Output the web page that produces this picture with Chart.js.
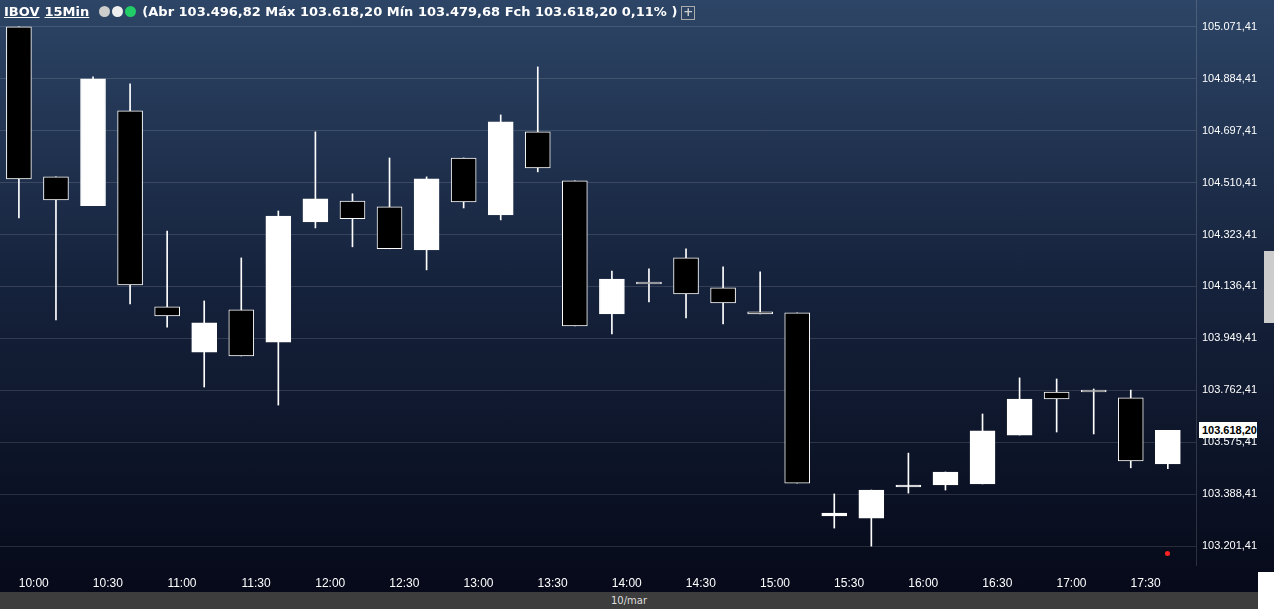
<!DOCTYPE html>
<html>
<head>
<meta charset="utf-8">
<script src="https://cdn.jsdelivr.net/npm/chart.js@4/dist/chart.umd.min.js"></script>
<style>
  body { margin: 0; width: 1274px; height: 609px; overflow: hidden; font-family: Tahoma, "DejaVu Sans", sans-serif;
         background: linear-gradient(#2d4566, #16233d 45%, #050817); position: relative; }
  #wrap { position: absolute; left: 0; top: 0; width: 1274px; height: 592px; }
  #topo { position: absolute; left: 4px; top: 4px; color: #fff; font-size: 13px; font-weight: bold; white-space: nowrap; }
  #topo u { margin-right: 5px; }
  .ic { display: inline-block; width: 11px; height: 11px; border-radius: 50%; vertical-align: -1px; margin-right: 2px; }
  #mais { display: inline-block; border: 1px solid #aaa; width: 12px; height: 12px; line-height: 11px; text-align: center; font-size: 12px; color: #ccc; margin-left: 4px; }
  #rodape { position: absolute; left: 0; top: 592px; width: 1258px; height: 17px; background: #3d3d3d; color: #ddd; font-size: 10px; text-align: center; line-height: 17px; }
  #canto { position: absolute; left: 1258px; top: 572px; width: 16px; height: 37px; background: #fff; }
  #preco { position: absolute; left: 1199px; top: 422px; width: 58px; height: 16px; background: #fff; color: #000; font-family: "Liberation Sans", Arial, sans-serif; font-size: 11px; font-weight: bold; line-height: 16px; text-align: right; }
  #aba { position: absolute; left: 1264px; top: 251px; width: 10px; height: 72px; background: #ccc; }
  #ponto { position: absolute; left: 1165px; top: 551px; width: 5px; height: 5px; border-radius: 50%; background: #f22; }
</style>
</head>
<body>
<div id="wrap"><canvas id="grafico"></canvas></div>
<div id="topo"><u>IBOV</u><u>15Min</u> <span class="ic" style="background:#ccc"></span><span class="ic" style="background:#eee"></span><span class="ic" style="background:#2c6"></span> (Abr 103.496,82 Máx 103.618,20 Mín 103.479,68 Fch 103.618,20 0,11% )<span id="mais">+</span></div>
<div id="preco">103.618,20</div>
<div id="aba"></div>
<div id="ponto"></div>
<div id="rodape">10/mar</div>
<div id="canto"></div>
<script>
'use strict';

const horarios = ['10:00','10:30','11:00','11:30','12:00','12:30','13:00','13:30','14:00','14:30','15:00','15:30','16:00','16:30','17:00','17:30'];
const abertura = [105071,104531,104427,104769,104063,103900,104052,103936,104369,104444,104423,104268,104599,104394,104693,104517,
                  104037,104145,104239,104131,104045,104041,103310,103302,103414,103421,103425,103601,103756,103756,103735,103497];
const fechamento = [104524,104448,104884,104142,104030,104005,103886,104390,104452,104380,104272,104524,104441,104729,104563,103994,
                    104163,104145,104109,104077,104037,103428,103320,103403,103421,103468,103616,103731,103731,103756,103508,103618];
const maxima = [105071,104531,104891,104866,104336,104084,104239,104408,104693,104470,104599,104531,104599,104754,104927,104517,
                104192,104200,104272,104207,104189,104041,103389,103403,103536,103468,103677,103807,103803,103767,103763,103618];
const minima = [104383,104016,104427,104073,103990,103774,103886,103709,104347,104279,104272,104196,104419,104376,104549,103994,
                103965,104081,104023,104001,104037,103428,103266,103201,103392,103403,103425,103601,103612,103605,103483,103480];
const niveisPreco = [103201.41,103388.41,103575.41,103762.41,103949.41,104136.41,104323.41,104510.41,104697.41,104884.41,105071.41];

const corpos = abertura.map((o, i) => ({ x: i, y: [o, fechamento[i]] }));
const pavios = abertura.map((o, i) => ({ x: i, y: [minima[i], maxima[i]] }));
const corCorpo = abertura.map((o, i) => fechamento[i] > o ? '#ffffff' : '#000000');

const fmt = v => v.toLocaleString('pt-BR', { minimumFractionDigits: 2, maximumFractionDigits: 2 });

new Chart(document.getElementById('grafico'), {
    type: 'bar',
    data: {
        datasets: [
            { data: corpos, backgroundColor: corCorpo, borderColor: '#ffffff', borderWidth: 1, borderSkipped: false,
              barThickness: 25, grouped: false, order: 1, minBarLength: 2 },
            { data: pavios, backgroundColor: '#ffffff', borderWidth: 0, barThickness: 1, grouped: false, order: 2 }
        ]
    },
    options: {
        responsive: true,
        maintainAspectRatio: false,
        animation: false,
        layout: { padding: 0 },
        plugins: { legend: { display: false }, tooltip: { enabled: false } },
        scales: {
            x: {
                type: 'linear', min: -0.51, max: 31.76, offset: false,
                afterBuildTicks: ax => { ax.ticks = horarios.map((h, k) => ({ value: k * 2 + 0.4 })); },
                afterFit: ax => { ax.height = 27; ax.paddingLeft = 0; ax.paddingRight = 0; },
                ticks: { color: '#ffffff', font: { size: 12 }, maxRotation: 0, autoSkip: false,
                         callback: v => horarios[Math.round((v - 0.4) / 2)] },
                grid: { display: false },
                border: { display: false }
            },
            y: {
                position: 'right', min: 103133, max: 105168,
                afterBuildTicks: ax => { ax.ticks = niveisPreco.map(v => ({ value: v })); },
                afterFit: ax => { ax.width = 78; ax.paddingTop = 0; ax.paddingBottom = 0; },
                ticks: { color: '#ffffff', font: { size: 11 }, padding: 6, callback: v => fmt(v) },
                grid: { color: 'rgba(255,255,255,0.13)', drawTicks: false },
                border: { display: true, color: 'rgba(255,255,255,0.15)' }
            }
        }
    }
});
</script>
</body>
</html>
